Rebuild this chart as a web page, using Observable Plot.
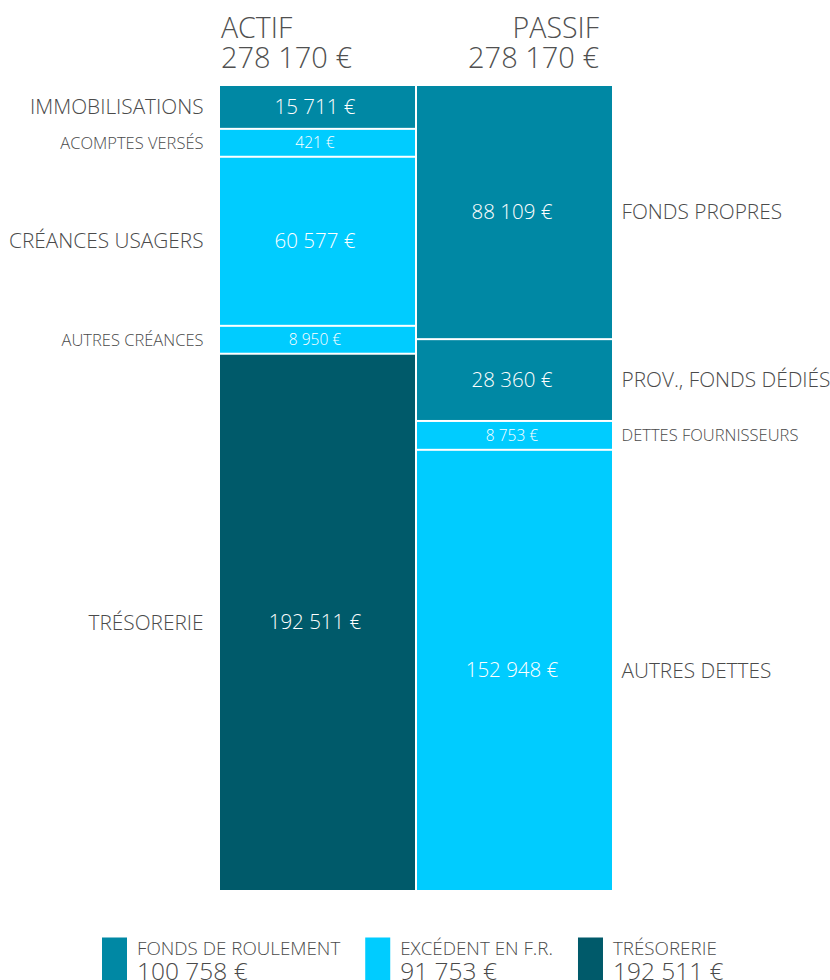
<!DOCTYPE html>
<html>
<head>
<meta charset="utf-8">
<script src="https://cdn.jsdelivr.net/npm/d3@7"></script>
<script src="https://cdn.jsdelivr.net/npm/@observablehq/plot@0.6"></script>
<style>
  html, body { margin: 0; padding: 0; background: #fff; }
  #chart { width: 830px; height: 980px; overflow: hidden; position: relative; }
  #chart svg { display: block; font-family: "Open Sans", sans-serif; }
</style>
</head>
<body>
<div id="chart"></div>
<script>
// ---- data ----
const sides = ["ACTIF", "PASSIF"];
const sideTotals = [278170, 278170];

const actifLabels = ["IMMOBILISATIONS", "ACOMPTES VERSÉS", "CRÉANCES USAGERS", "AUTRES CRÉANCES", "TRÉSORERIE"];
const actifValues = [15711, 421, 60577, 8950, 192511];
const actifGroups = ["fr", "excedent", "excedent", "excedent", "tresorerie"];

const passifLabels = ["FONDS PROPRES", "PROV., FONDS DÉDIÉS", "DETTES FOURNISSEURS", "AUTRES DETTES"];
const passifValues = [88109, 28360, 8753, 152948];
const passifGroups = ["fr", "fr", "excedent", "excedent"];

const legendKeys = ["fr", "excedent", "tresorerie"];
const legendLabels = ["FONDS DE ROULEMENT", "EXCÉDENT EN F.R.", "TRÉSORERIE"];
const legendValues = [100758, 91753, 192511];
const groupColors = ["#0088a4", "#00ccff", "#005a6a"];

// minimum displayed amount so that tiny items stay readable
const MIN_DISPLAY = 10000;

// ---- build tables ----
const colorOf = k => groupColors[legendKeys.indexOf(k)];
const mk = (side, labels, values, groups) => labels.map((label, i) => ({
  side, label, value: values[i], group: groups[i], color: colorOf(groups[i]),
  disp: Math.max(values[i], MIN_DISPLAY), small: values[i] < MIN_DISPLAY
}));
const actif = mk("ACTIF", actifLabels, actifValues, actifGroups);
const passif = mk("PASSIF", passifLabels, passifValues, passifGroups);
const all = actif.concat(passif);

const locale = d3.formatLocale({decimal: ",", thousands: " ", grouping: [3], currency: ["", " €"]});
const fmt = v => locale.format(",")(v) + " €";

const W = 830, H = 980;
const stackOpts = {y: "disp", order: null, offset: "normalize"};

const plot = Plot.plot({
  width: W,
  height: H,
  marginTop: 85,
  marginBottom: 89,
  marginLeft: 219,
  marginRight: 217,
  style: {fontFamily: "'Open Sans', sans-serif", background: "white"},
  x: {type: "band", domain: sides, paddingInner: 0.0101, paddingOuter: 0, axis: null},
  y: {domain: [0, 1], reverse: true, axis: null},
  color: {type: "identity"},
  marks: [
    Plot.barY(all, Plot.stackY({...stackOpts, x: "side", fill: "color", insetTop: 1, insetBottom: 1})),
    Plot.text(all, Plot.stackY({...stackOpts, x: "side", text: d => fmt(d.value), dx: -3,
      fill: "white", fontSize: d => d.small ? 15.5 : 20.5, fontWeight: 300})),
    Plot.text(actif, Plot.stackY({...stackOpts, text: "label", frameAnchor: "left", textAnchor: "end",
      dx: -16, fill: "#4a4a4a", fontSize: d => d.small ? 16.5 : 20.8, fontWeight: 300})),
    Plot.text(passif, Plot.stackY({...stackOpts, text: "label", frameAnchor: "right", textAnchor: "start",
      dx: 8, fill: "#4a4a4a", fontSize: d => d.small ? 16.5 : 20.8, fontWeight: 300}))
  ]
});

document.getElementById("chart").appendChild(plot);

// ---- headers (positioned from the x scale) ----
const xs = plot.scale("x");
const svg = d3.select(plot);
const hdr = svg.append("g").attr("fill", "#505050").attr("font-weight", 300);
sides.forEach((s, i) => {
  const left = xs.apply(s);
  const isLeft = i === 0;
  const hx = isLeft ? left + 1 : left + xs.bandwidth - 13;
  const anchor = isLeft ? "start" : "end";
  hdr.append("text").attr("x", hx).attr("y", 38).attr("font-size", 28.5)
    .attr("text-anchor", anchor).text(s);
  hdr.append("text").attr("x", hx).attr("y", 68).attr("font-size", 29)
    .attr("text-anchor", anchor).text(fmt(sideTotals[i]));
});

// ---- legend ----
const lg = svg.append("g").attr("font-weight", 300).attr("text-anchor", "start");
let lx = 102;
legendKeys.forEach((k, i) => {
  lg.append("rect").attr("x", lx).attr("y", 937.5).attr("width", 25).attr("height", 50)
    .attr("fill", groupColors[i]);
  const t1 = lg.append("text").attr("x", lx + 35).attr("y", 954.5).attr("font-size", 18.8)
    .attr("fill", "#4a4a4a").text(legendLabels[i]);
  const t2 = lg.append("text").attr("x", lx + 35).attr("y", 980).attr("font-size", 24.5)
    .attr("fill", "#4a4a4a").text(fmt(legendValues[i]));
  const w = Math.max(t1.node().getComputedTextLength(), t2.node().getComputedTextLength());
  lx = lx + 35 + w + 25;
});
</script>
</body>
</html>
